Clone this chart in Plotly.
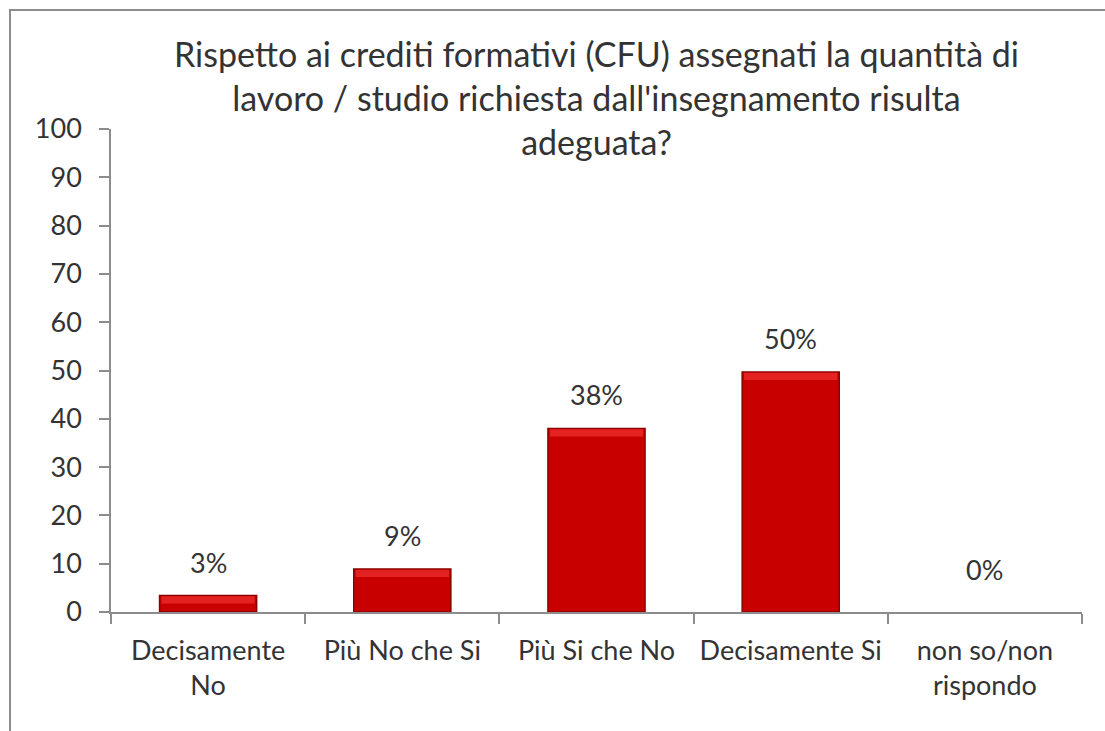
import plotly.graph_objects as go

categories = ["Decisamente<br>No", "Più No che Si", "Più Si che No", "Decisamente Si", "non so/non<br>rispondo"]
values = [3.4, 8.9, 38.0, 49.7, 0.0]
labels = ["3%", "9%", "38%", "50%", "0%"]
y_ticks = [0, 10, 20, 30, 40, 50, 60, 70, 80, 90, 100]

title_text = ("Rispetto ai crediti formativi (CFU) assegnati la quantità di<br>"
              "lavoro / studio richiesta dall'insegnamento risulta<br>adeguata?")

FONT = "Lato"
TXT = "#333333"

W, H = 1105, 731
ml, mr, mt, mb = 111, 23, 129, 119
pw, ph = W - ml - mr, H - mt - mb

band = 1.5  # highlight band thickness (axis units) for bevel look
fig = go.Figure()
fig.add_trace(go.Bar(
    x=categories, y=values,
    marker=dict(color="#C80000",
                line=dict(color="#8A0000", width=[1.5 if v > 0 else 0 for v in values])),
    width=0.5, hoverinfo="skip",
))
fig.add_trace(go.Bar(
    x=categories,
    y=[band if v > band else 0 for v in values],
    base=[v - band - 0.15 if v > band else 0 for v in values],
    marker=dict(color="#E52222", line=dict(width=0)),
    width=0.48, hoverinfo="skip",
))

for c, v, t in zip(categories, values, labels):
    fig.add_annotation(x=c, y=v, text=t, showarrow=False, yanchor="bottom",
                       yshift=15 if v > 0 else 24,
                       font=dict(family=FONT, size=27, color=TXT))

fig.add_annotation(text=title_text, xref="paper", yref="paper", x=0.5,
                   y=(H - mb - 97) / ph, yanchor="middle", showarrow=False,
                   font=dict(family=FONT, size=34, color=TXT), align="center")

fig.add_shape(type="rect", xref="paper", yref="paper",
              x0=(10 - ml) / pw, x1=(W + 20 - ml) / pw,
              y0=-(H + 20 - (H - mb)) / ph, y1=(H - mb - 10) / ph,
              line=dict(color="#8C8C8C", width=2), fillcolor="rgba(0,0,0,0)", layer="below")

fig.update_layout(
    width=W, height=H,
    margin=dict(l=ml, r=mr, t=mt, b=mb),
    paper_bgcolor="white", plot_bgcolor="white",
    showlegend=False, barmode="overlay",
    font=dict(family=FONT, color=TXT),
)
fig.update_yaxes(range=[0, 100], tickvals=y_ticks, showgrid=False, zeroline=False,
                 showline=True, linecolor="#8C8C8C", linewidth=1.5,
                 ticks="outside", ticklen=10, tickcolor="#8C8C8C", tickwidth=1.5,
                 tickfont=dict(family=FONT, size=27, color=TXT), ticklabelstandoff=12)
fig.update_xaxes(showgrid=False, showline=True, linecolor="#8C8C8C", linewidth=1.5,
                 ticks="outside", ticklen=10, tickcolor="#8C8C8C", tickwidth=1.5,
                 tickson="boundaries", tickangle=0,
                 tickfont=dict(family=FONT, size=27, color=TXT), ticklabelstandoff=14)

fig.write_html("out.html", config={"displayModeBar": False},
               post_script="document.body.style.margin='0px';document.body.style.overflow='hidden';")
